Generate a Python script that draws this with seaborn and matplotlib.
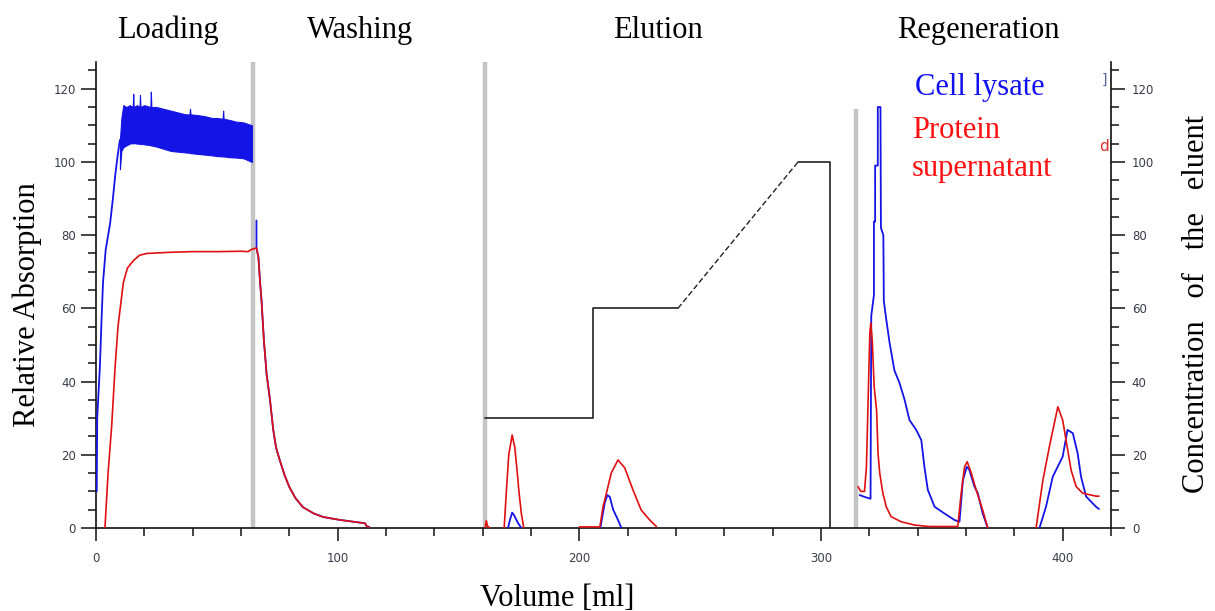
import numpy as np
import pandas as pd
import matplotlib
matplotlib.use("Agg")
import matplotlib.pyplot as plt
import seaborn as sns

# ---------------- data ----------------
# Loading phase: cell lysate rise and noisy plateau envelope
lys_rise_x = [0, 0.3, 0.5, 1.6, 2.3, 2.9, 4, 5.8, 7, 7.9, 9, 9.9]
lys_rise_y = [10, 10, 30, 44, 57, 67, 76, 83, 90, 96, 102, 106]
band_x = [9.9, 10.5, 11.3, 12.5, 14, 15.2, 15.4, 15.6, 17, 18, 18.2, 18.4, 20, 22.5,
          22.7, 22.9, 25, 28, 31, 34, 37, 38.7, 38.9, 39.1, 42, 45, 48, 50, 52.4, 52.6,
          52.8, 55, 58, 61, 64.5]
band_hi = [106, 112, 115.5, 115, 115.5, 115, 118.6, 115, 115.5, 115, 118.3, 115, 115.5, 115,
           119.2, 115, 115, 114.5, 114, 113.5, 113, 113, 114.5, 113, 112.8, 112.5, 112, 112,
           111.8, 114, 111.8, 111.5, 111, 110.8, 110]
band_lo = [98, 103, 104, 104.5, 105, 105.2, 105, 105.2, 105, 105, 104.8, 105, 104.8, 104.6,
           104.5, 104.5, 104.2, 103.6, 103, 102.8, 102.6, 102.5, 102.5, 102.4, 102.2, 102, 101.8,
           101.6, 101.5, 101.5, 101.5, 101.3, 101.2, 101, 100]

# Washing: lysate spike after the line, then common decay
lys_wash_x = [66.4, 66.4]
lys_wash_y = [84, 77]
decay_x = [66.4, 67.2, 67.8, 68.5, 69.5, 70.6, 72, 73.3, 74.5, 76, 78, 80, 82.5, 85.6,
           90, 94, 101, 107.8, 111.3, 112, 113]
decay_y = [76.5, 74, 68, 62, 51, 42, 35, 27, 22, 18.6, 14.5, 11.2, 8.2, 5.7,
           4, 3, 2.2, 1.6, 1.3, 0.5, 0.3]

# Protein supernatant loading
sup_load_x = [3.7, 5, 6.5, 7.9, 9.1, 11.3, 13, 15.4, 18, 21, 30, 40, 50, 60, 63, 64, 66.4]
sup_load_y = [0, 15, 28, 44, 55, 67, 71, 73, 74.5, 75, 75.3, 75.5, 75.5, 75.6, 75.5, 76, 76.5]

# Elution peaks
sup_el0_x = [161, 161.5, 162, 163]
sup_el0_y = [0, 2, 0.5, 0]
sup_el1_x = [168.9, 169.8, 170.8, 172.2, 173.3, 174.2, 175, 176, 177]
sup_el1_y = [0, 10, 20, 25.4, 22, 16, 10, 4, 0]
sup_el2_x = [200, 208.5, 209.8, 211.2, 213.2, 216, 218.8, 222.2, 225.6, 229.1, 231.9]
sup_el2_y = [0.3, 0.3, 5.8, 9.5, 15, 18.6, 16.4, 10.4, 4.9, 2.2, 0.4]
lys_el1_x = [170.5, 171.2, 172.2, 173, 174.5, 176]
lys_el1_y = [0, 2, 4.2, 3.5, 1.5, 0]
lys_el2_x = [208.7, 210.5, 211.6, 212.6, 214, 216, 217.4]
lys_el2_y = [0, 6.8, 9, 8.5, 5, 2.2, 0]

# Regeneration
lys_rg1_x = [316, 318, 320.5, 320.8, 321.9, 321.9, 322.4, 322.4, 323.5, 323.5, 324.6, 324.8,
             325.8, 326, 327, 328.4, 330.4, 332.5, 334.6, 336.6, 339.4, 341.5, 342.8, 344.2,
             347, 351, 355.2, 357.3, 358.7, 360.3, 361.3, 363.5, 364.9, 366.9, 369]
lys_rg1_y = [9, 8.5, 8, 58, 63.6, 83.7, 83.7, 99, 99, 115, 115, 82,
             80, 62, 57, 50.5, 43, 39.6, 35, 29.5, 26.8, 24, 16.7, 10.4,
             5.8, 4, 2.2, 1.7, 13, 16.7, 16, 11.3, 9.5, 4, 0]
lys_rg2_x = [390.4, 393.1, 395.9, 400, 402, 404.2, 406.2, 407.6, 409.7, 413.8, 415]
lys_rg2_y = [0, 5.8, 14, 19.5, 26.8, 25.9, 20.4, 14, 8.6, 5.8, 5.2]
sup_rg1_x = [315.3, 316.5, 318, 318.8, 319.5, 320.2, 320.6, 321.2, 322, 323, 323.6, 324.3,
             325.6, 327, 329, 333.2, 338.7, 344.9, 356.6, 358, 359.4, 360.5, 362.2, 364.2,
             366.9, 369]
sup_rg1_y = [11.3, 10, 10, 16.7, 35, 53.2, 56, 51.4, 38.6, 32.2, 20.4, 15,
             9.5, 5.8, 3.1, 1.7, 0.8, 0.4, 0.4, 9.5, 16.7, 18.1, 15, 10.4,
             4.9, 0]
sup_rg2_x = [389, 391.8, 394.5, 398, 400, 401.4, 403.5, 405.6, 408.3, 413.8, 415]
sup_rg2_y = [0, 13, 22.2, 33.1, 29.5, 24, 15.8, 11.3, 9.5, 8.7, 8.7]

# Eluent concentration program (right axis)
elu_a_x = [161, 205.7, 205.7, 240.8]
elu_a_y = [30, 30, 60, 60]
elu_b_x = [240.8, 290.5]
elu_b_y = [60, 100]
elu_c_x = [290.5, 303.8, 303.8]
elu_c_y = [100, 100, 0]

# Phase boundaries (x, top y)
phase_x = [65, 161, 314.6]
phase_top = [127.3, 127.3, 114.5]

phase_names = ["Loading", "Washing", "Elution", "Regeneration"]
phase_label_pos = [0.0709, 0.260, 0.5537, 0.869]

# ---------------- build tables ----------------
def seg_df(segments):
    rows = []
    for i, (xs, ys) in enumerate(segments):
        for k, (xx, yy) in enumerate(zip(xs, ys)):
            rows.append({"seg": i, "order": k, "x": xx, "y": yy})
    return pd.DataFrame(rows)

lys_df = seg_df([(lys_rise_x, lys_rise_y), (lys_wash_x + decay_x, lys_wash_y + decay_y),
                 (lys_el1_x, lys_el1_y), (lys_el2_x, lys_el2_y),
                 (lys_rg1_x, lys_rg1_y), (lys_rg2_x, lys_rg2_y)])
sup_df = seg_df([(sup_load_x + decay_x[1:], sup_load_y + decay_y[1:]),
                 (sup_el0_x, sup_el0_y), (sup_el1_x, sup_el1_y), (sup_el2_x, sup_el2_y),
                 (sup_rg1_x, sup_rg1_y), (sup_rg2_x, sup_rg2_y)])
elu_solid = seg_df([(elu_a_x, elu_a_y), (elu_c_x, elu_c_y)])
elu_dash = seg_df([(elu_b_x, elu_b_y)])

BLUE = "#1414e6"
RED = "#e01010"
SERIF = ["Liberation Serif", "DejaVu Serif"]
TICKC = "#3a3a4a"

sns.set_theme(style="white")
plt.rcParams["font.family"] = ["DejaVu Sans"]

fig = plt.figure(figsize=(12.15, 6.11), dpi=100)
ax = fig.add_axes([96 / 1215, 1 - 528 / 611, (1111 - 96) / 1215, (528 - 62) / 611])
ax2 = ax.twinx()

YMAX = 127.3
XMAX = 420

# gray phase lines
for px, top in zip(phase_x, phase_top):
    ax.plot([px, px], [0, top], color="#c4c4c4", lw=3.2, zorder=1, solid_capstyle="butt")

# loading noise band of the lysate
ax.fill_between(band_x, band_lo, band_hi, color=BLUE, lw=0.8, edgecolor=BLUE, zorder=2)

sns.lineplot(data=lys_df, x="x", y="y", units="seg", estimator=None, sort=False,
             color=BLUE, lw=1.3, ax=ax, zorder=3)
sns.lineplot(data=sup_df, x="x", y="y", units="seg", estimator=None, sort=False,
             color=RED, lw=1.2, ax=ax, zorder=4)

sns.lineplot(data=elu_solid, x="x", y="y", units="seg", estimator=None, sort=False,
             color="#222222", lw=1.2, ax=ax2)
sns.lineplot(data=elu_dash, x="x", y="y", units="seg", estimator=None, sort=False,
             color="#222222", lw=1.0, ax=ax2, linestyle=(0, (4, 2)))

for a in (ax, ax2):
    a.set_xlim(0, XMAX)
    a.set_ylim(0, YMAX)
    a.set_xlabel("")
    a.set_ylabel("")
    a.set_facecolor("none")
    a.grid(False)
    for s in a.spines.values():
        s.set_visible(False)

ax.spines["left"].set_visible(True)
ax.spines["bottom"].set_visible(True)
ax2.spines["right"].set_visible(True)
for s in (ax.spines["left"], ax.spines["bottom"], ax2.spines["right"]):
    s.set_color("#111111")
    s.set_linewidth(1.2)

ax.set_xticks([0, 100, 200, 300, 400])
ax.set_xticks(np.arange(0, 421, 20), minor=True)
ax.set_yticks(np.arange(0, 121, 20))
ax.set_yticks(np.arange(0, 126, 5), minor=True)
ax2.set_yticks(np.arange(0, 121, 20))
ax2.set_yticks(np.arange(0, 126, 5), minor=True)

ax.tick_params(axis="x", which="major", direction="out", length=9.5, width=1.1,
               color="#111111", pad=8, labelsize=8.5, labelcolor=TICKC, bottom=True)
ax.tick_params(axis="x", which="minor", direction="out", length=5.5, width=1.1,
               color="#111111", bottom=True)
ax.tick_params(axis="y", which="major", direction="out", length=10.5, width=1.1,
               color="#111111", pad=4, labelsize=8.5, labelcolor=TICKC, left=True, right=False)
ax.tick_params(axis="y", which="minor", direction="out", length=5.5, width=1.1,
               color="#111111", left=True, right=False)
ax2.tick_params(axis="y", which="major", direction="out", length=10, width=1.1,
                color="#111111", pad=5, labelsize=8.5, labelcolor=TICKC, right=True, left=False)
ax2.tick_params(axis="y", which="minor", direction="out", length=5.5, width=1.1,
                color="#111111", right=True, left=False)
ax2.tick_params(axis="x", bottom=False, top=False, labelbottom=False)

# axis titles
ax.text(0.454, -0.152, "Volume [ml]", transform=ax.transAxes, ha="center", va="center",
        fontsize=22, family=SERIF, color="black")
ax.text(-0.068, 0.4785, "Relative Absorption", transform=ax.transAxes, ha="center",
        va="center", rotation=90, fontsize=22, family=SERIF, color="black")
ax.text(1.0847, 0.48, "Concentration   of   the   eluent", transform=ax.transAxes,
        ha="center", va="center", rotation=90, fontsize=22, family=SERIF, color="black")

for name, xp in zip(phase_names, phase_label_pos):
    ax.text(xp, 1.068, name, transform=ax.transAxes, ha="center", va="center",
            fontsize=22, family=SERIF, color="black")

# legend texts
ax.text(0.807, 0.946, "Cell lysate", transform=ax.transAxes, ha="left", va="center",
        fontsize=22, family=SERIF, color="#1010f0")
ax.text(0.804, 0.854, "Protein", transform=ax.transAxes, ha="left", va="center",
        fontsize=22, family=SERIF, color="#ff1010")
ax.text(0.804, 0.7725, "supernatant", transform=ax.transAxes, ha="left", va="center",
        fontsize=22, family=SERIF, color="#ff1010")
ax.text(0.993, 0.962, "]", transform=ax.transAxes, ha="center", va="center",
        fontsize=10, color="#5060a0")
ax.text(0.993, 0.818, "d", transform=ax.transAxes, ha="center", va="center",
        fontsize=11, color="#e03030")

fig.savefig("out.png", dpi=100)
